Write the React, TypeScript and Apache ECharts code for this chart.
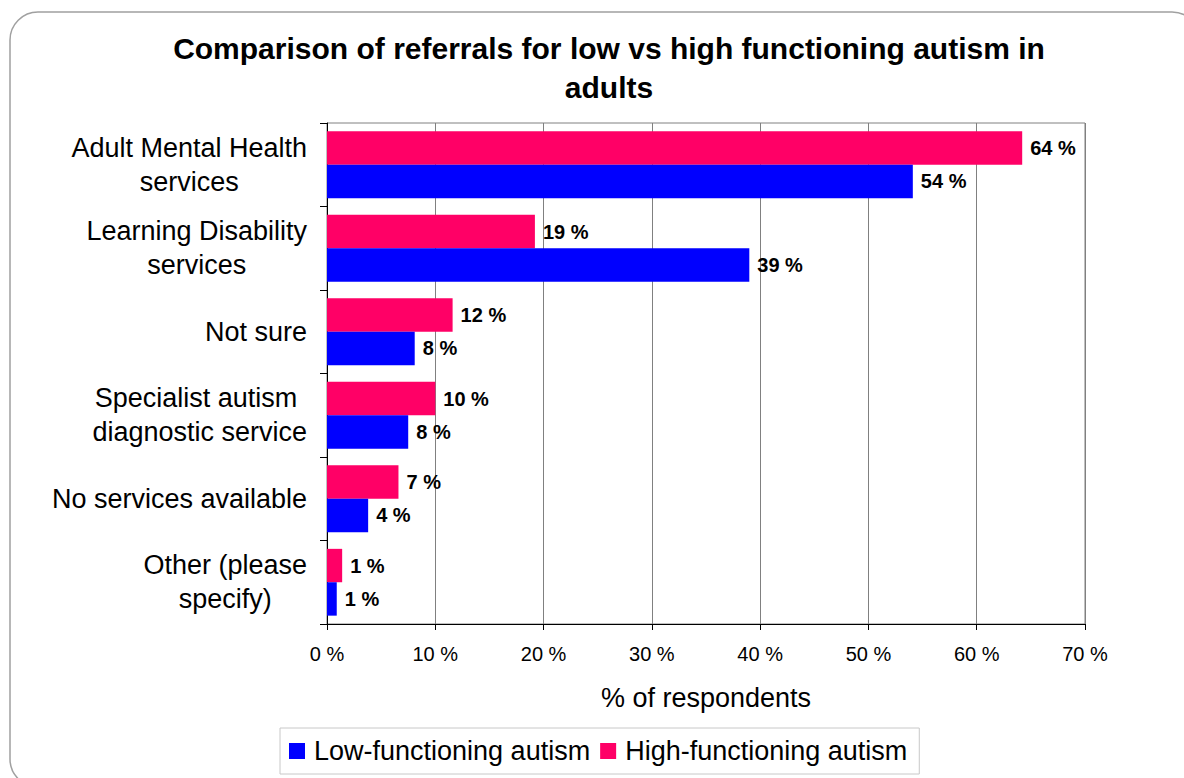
import React, { useEffect, useRef } from "react";
import * as echarts from "echarts";

const categories = [
  "Adult Mental Health\nservices",
  "Learning Disability\nservices",
  "Not sure",
  "Specialist autism \ndiagnostic service",
  "No services available",
  "Other (please\nspecify)",
];
const highFunctioning = [64.2, 19.2, 11.6, 10.0, 6.6, 1.4];
const lowFunctioning = [54.1, 39.0, 8.1, 7.5, 3.8, 0.9];
const xTicks = { min: 0, max: 70, interval: 10 };
const seriesNames = ["Low-functioning autism", "High-functioning autism"];
const titleText = "Comparison of referrals for low vs high functioning autism in\nadults";
const xAxisName = "% of respondents";

const FONT = "'Liberation Sans', Arial, Helvetica, sans-serif";

export default function App() {
  const ref = useRef<HTMLDivElement>(null);
  useEffect(() => {
    if (!ref.current) return;
    const chart = echarts.init(ref.current, undefined, { renderer: "svg" });
    const valueLabel = {
      show: true,
      position: "right",
      distance: 8,
      color: "#000",
      fontFamily: FONT,
      fontSize: 20,
      fontWeight: "bold",
      formatter: (p: any) => Math.round(p.value) + " %",
    };
    chart.setOption({
      animation: false,
      backgroundColor: "#fff",
      textStyle: { fontFamily: FONT, color: "#000" },
      title: {
        text: titleText,
        left: 609,
        textAlign: "center",
        top: 29,
        padding: 0,
        textStyle: {
          fontFamily: FONT,
          fontSize: 30,
          fontWeight: "bold",
          lineHeight: 39,
          color: "#000",
        },
      },
      graphic: [
        {
          type: "rect",
          z: -10,
          silent: true,
          shape: { x: 10, y: 12, width: 1190, height: 775, r: 28 },
          style: { fill: "none", stroke: "#a0a0a0", lineWidth: 1.5 },
        },
      ],
      legend: {
        data: seriesNames,
        left: 280,
        top: 728,
        orient: "horizontal",
        icon: "rect",
        itemWidth: 16,
        itemHeight: 16,
        itemGap: 10,
        padding: [9, 12, 9, 9],
        borderColor: "#c8c8c8",
        borderWidth: 1,
        textStyle: {
          fontFamily: FONT,
          fontSize: 27,
          lineHeight: 28,
          color: "#000",
          padding: [0, 0, 0, 4],
        },
      },
      grid: {
        left: 327,
        right: 99,
        top: 123,
        bottom: 154,
        show: true,
        borderColor: "#808080",
        borderWidth: 1,
        containLabel: false,
      },
      xAxis: {
        type: "value",
        min: xTicks.min,
        max: xTicks.max,
        interval: xTicks.interval,
        name: xAxisName,
        nameLocation: "middle",
        nameGap: 60,
        nameTextStyle: { fontFamily: FONT, fontSize: 27, color: "#000" },
        axisLine: { show: true, lineStyle: { color: "#000", width: 1 } },
        axisTick: { show: true, length: 6, lineStyle: { color: "#000" } },
        axisLabel: {
          fontFamily: FONT,
          fontSize: 20,
          color: "#000",
          margin: 20,
          formatter: "{value} %",
        },
        splitLine: { show: true, lineStyle: { color: "#808080", width: 1 } },
      },
      yAxis: {
        type: "category",
        inverse: true,
        data: categories,
        axisLine: { show: true, lineStyle: { color: "#000", width: 1 } },
        axisTick: { show: true, length: 7, inside: false, lineStyle: { color: "#000" } },
        axisLabel: {
          margin: 20,
          align: "right",
          formatter: (v: string) =>
            v
              .split("\n")
              .map((line) => "{c|" + line + "}")
              .join("\n"),
          rich: {
            c: {
              align: "center",
              fontFamily: FONT,
              fontSize: 27,
              lineHeight: 34,
              color: "#000",
            },
          },
        },
        splitLine: { show: false },
      },
      series: [
        {
          name: seriesNames[1],
          type: "bar",
          data: highFunctioning,
          itemStyle: { color: "#FF0066" },
          barGap: "0%",
          barCategoryGap: "20%",
          label: valueLabel,
        },
        {
          name: seriesNames[0],
          type: "bar",
          data: lowFunctioning,
          itemStyle: { color: "#0000FF" },
          barGap: "0%",
          barCategoryGap: "20%",
          label: valueLabel,
        },
      ],
    });
    return () => chart.dispose();
  }, []);
  return (
    <div
      ref={ref}
      style={{ position: "fixed", left: 0, top: 0, width: 1184, height: 778 }}
    />
  );
}
